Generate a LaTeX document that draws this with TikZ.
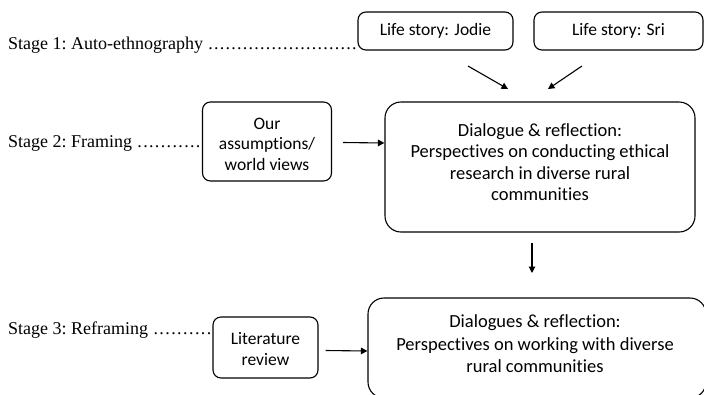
\documentclass[tikz,border=0pt]{standalone}
\usepackage{fontspec}
\setmainfont{Liberation Serif}
\newfontfamily\boxfont[Ligatures=NoCommon]{Carlito}
\usetikzlibrary{arrows.meta}
\newcommand{\myleader}{\xleaders\hbox to 5.7pt{\hss.\hss}\hfill}
\tikzset{
  stagelabel/.style={anchor=base west, inner sep=0pt, font=\fontsize{18}{21}\selectfont\frenchspacing},
  smallbox/.style={draw, line width=1.1pt, rounded corners=8pt, inner sep=0pt},
  bigbox/.style={draw, line width=1.1pt, rounded corners=16pt, inner sep=0pt},
  smalltext/.style={align=center, inner sep=0pt, font=\boxfont\fontsize{17.5}{20.5}\selectfont},
  bigtext/.style={align=center, inner sep=0pt, font=\boxfont\fontsize{18.5}{21.5}\selectfont},
  conn/.style={line width=1.1pt, -{Triangle[length=6.5pt,width=6.5pt]}}
}
\begin{document}
\begin{tikzpicture}[x=1pt,y=-1pt]
\useasboundingbox (0,0) rectangle (704,394);
\clip (0,0) rectangle (704,394);
\fill[white] (0,0) rectangle (704,394);

% stage labels with dotted leaders
\node[stagelabel] (s1) at (8,49) {\hbox to 349pt{Stage 1: Auto-ethnography \myleader}};
\node[stagelabel] (s2) at (8,147) {\hbox to 193pt{Stage 2: Framing \myleader}};
\node[stagelabel] (s3) at (8,334) {\hbox to 204pt{Stage 3: Reframing \myleader}};

% stage 1 boxes
\node[smallbox, minimum width=155pt, minimum height=38pt] (jodie) at (435.5,31) {};
\node[smalltext] (jodiet) at (jodie.center) {Life story: Jodie};
\node[smallbox, minimum width=169pt, minimum height=38pt] (sri) at (618.5,31) {};
\node[smalltext] (srit) at (sri.center) {Life story: Sri};

% stage 2
\node[smallbox, minimum width=129pt, minimum height=79pt] (assume) at (267,141.5) {};
\node[smalltext] (assumet) at (267,144) {Our\\ assumptions/\\ world views};
\node[bigbox, minimum width=310pt, minimum height=130pt] (dial1) at (540,167) {};
\node[bigtext] (dial1t) at (540,162)
  {Dialogue \& reflection:\\ Perspectives on conducting ethical\\ research in diverse rural\\ communities};

% stage 3
\node[smallbox, minimum width=105pt, minimum height=61pt] (lit) at (265.5,347.5) {};
\node[smalltext] (litt) at (265.5,349) {Literature\\ review};
\node[bigbox, minimum width=338pt, minimum height=100pt] (dial2) at (537,348) {};
\node[bigtext, font=\boxfont\fontsize{18.5}{22.5}\selectfont] (dial2t) at (535,344)
  {Dialogues \& reflection:\\ Perspectives on working with diverse\\ rural communities};

% arrow anchors
\coordinate (a1s) at (468,66);
\coordinate (a1e) at (508,89);
\coordinate (a2s) at (582,66);
\coordinate (a2e) at (548,89);
\coordinate (a4s) at (532,243);
\coordinate (a4e) at (532,273);

\draw[conn] (a1s) -- (a1e);
\draw[conn] (a2s) -- (a2e);
\draw[conn] (assume.east) ++(11,1) -- (dial1.west |- 0,143);
\draw[conn] (a4s) -- (a4e);
\draw[conn] (lit.east) ++(7,3) -- (dial2.west |- 0,351);
\end{tikzpicture}
\end{document}
